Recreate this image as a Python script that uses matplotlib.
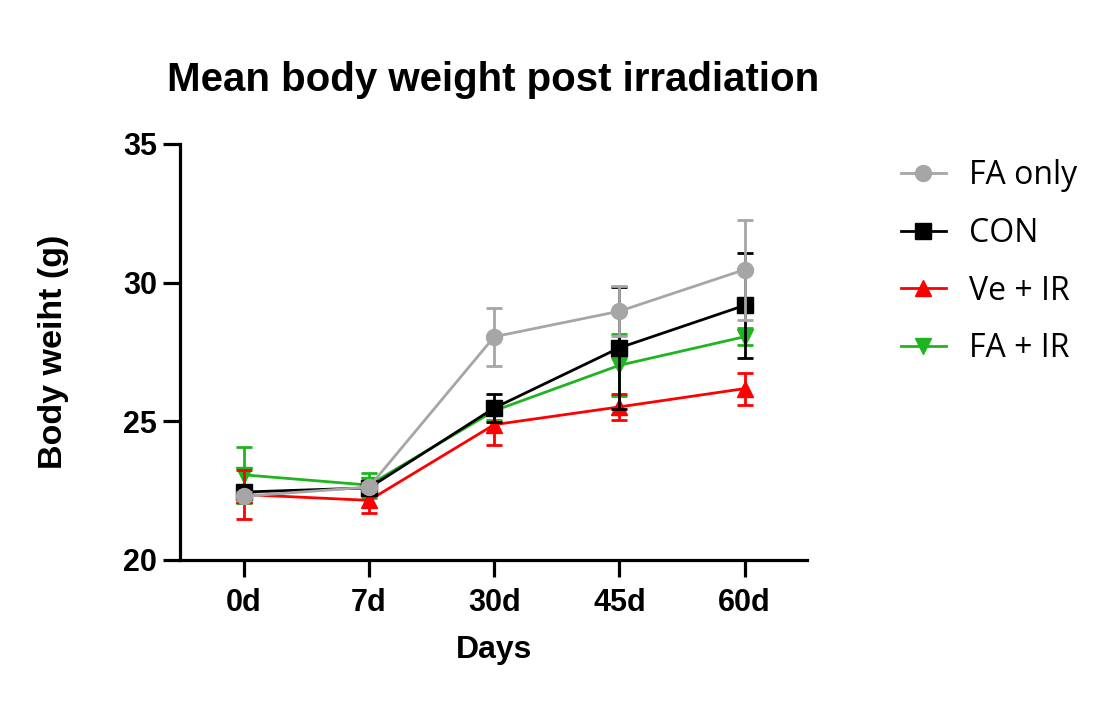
import matplotlib
matplotlib.use("Agg")
import matplotlib.pyplot as plt
from matplotlib.lines import Line2D
import numpy as np

days = ["0d", "7d", "30d", "45d", "60d"]

fa_only = [22.30, 22.63, 28.05, 28.97, 30.47]
fa_only_err = [0.15, 0.15, 1.05, 0.90, 1.80]

con = [22.45, 22.60, 25.48, 27.65, 29.18]
con_err = [0.15, 0.20, 0.52, 2.20, 1.90]

ve_ir = [22.36, 22.15, 24.88, 25.52, 26.18]
ve_ir_err = [0.88, 0.45, 0.75, 0.48, 0.58]

fa_ir = [23.07, 22.70, 25.38, 27.02, 28.05]
fa_ir_err = [1.00, 0.45, 0.35, 1.12, 0.30]

# label, values, error, colour, marker, zorder
series = [
    ("FA only", fa_only, fa_only_err, "#a6a6a6", "o", 5),
    ("CON", con, con_err, "#000000", "s", 4),
    ("Ve + IR", ve_ir, ve_ir_err, "#ff0000", "^", 3),
    ("FA + IR", fa_ir, fa_ir_err, "#1fb51f", "v", 2),
]

plt.rcParams["font.family"] = ["Liberation Sans", "DejaVu Sans"]

fig = plt.figure(figsize=(11.18, 7.02), dpi=100)
ax = fig.add_axes([0.161, 0.2023, 0.561, 0.5926])

x = np.arange(len(days))
handles = []
for label, vals, err, color, marker, z in series:
    ax.errorbar(x, vals, yerr=err, color=color, marker=marker, markersize=11.5,
                linewidth=2, elinewidth=2, capsize=6, capthick=2, zorder=z)
    handles.append(Line2D([], [], color=color, marker=marker, markersize=11.5,
                          linewidth=2, label=label))

ax.set_xlim(-0.51, 4.5)
ax.set_ylim(20, 35)
ax.set_yticks([20, 25, 30, 35])
ax.set_xticks(x)
ax.set_xticklabels(days)

for s in ["top", "right"]:
    ax.spines[s].set_visible(False)
for s in ["left", "bottom"]:
    ax.spines[s].set_linewidth(2.3)
ax.tick_params(axis="both", width=2.3, length=12.5, labelsize=22)
ax.tick_params(axis="x", pad=8)
ax.tick_params(axis="y", pad=4)
for lbl in ax.get_xticklabels() + ax.get_yticklabels():
    lbl.set_fontweight("bold")

ax.set_xlabel("Days", fontsize=23, fontweight="bold", labelpad=12)
ax.set_ylabel("Body weiht (g)", fontsize=24.5, fontweight="bold", labelpad=39)
ax.set_title("Mean body weight post irradiation", fontsize=29, fontweight="bold", pad=38)

fig.legend(handles=handles, loc="upper left", bbox_to_anchor=(0.806, 0.773),
           frameon=False, prop={"family": "Open Sans", "size": 23},
           handlelength=1.4, labelspacing=0.77, handletextpad=0.72,
           borderpad=0, borderaxespad=0)

fig.savefig("out.png", dpi=100)
